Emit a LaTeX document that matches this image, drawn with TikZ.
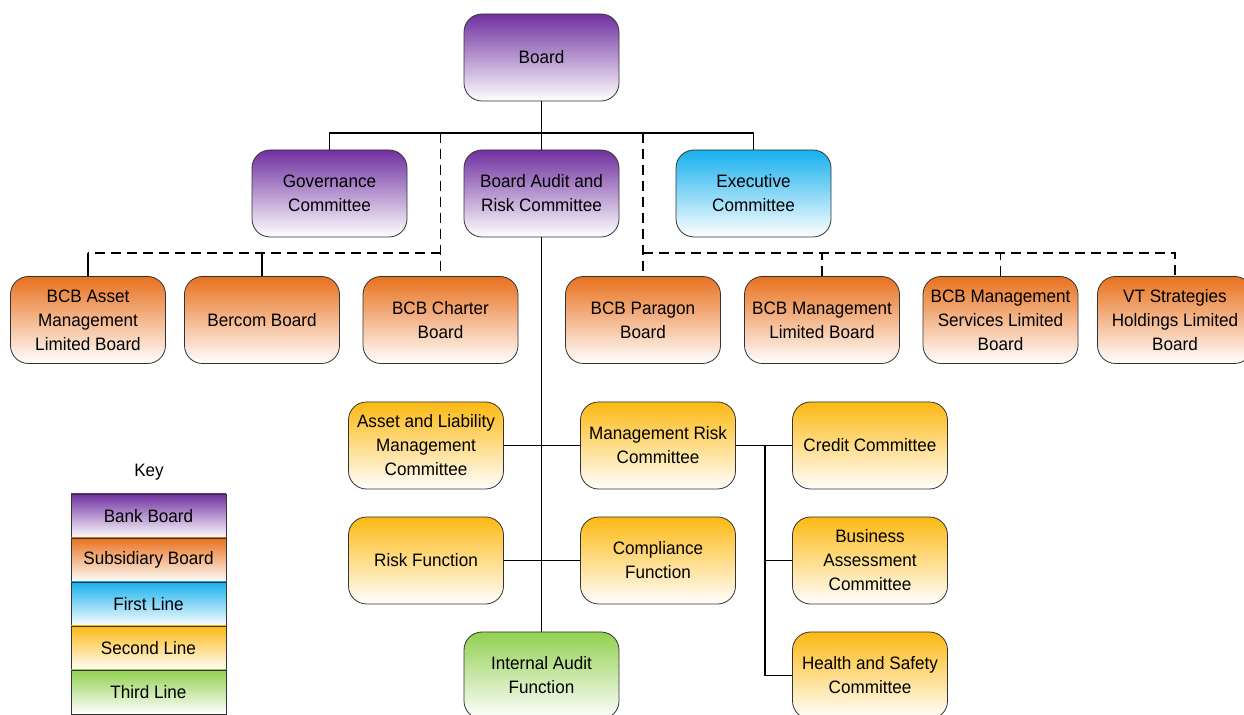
\documentclass[tikz,border=0pt]{standalone}
\usepackage{fontspec}
\setmainfont{Liberation Sans}[FakeStretch=0.95]

\definecolor{bankc}{HTML}{7030A0}
\definecolor{subc}{HTML}{E8711E}
\definecolor{firstc}{HTML}{16B0EE}
\definecolor{secondc}{HTML}{FDB913}
\definecolor{thirdc}{HTML}{92D050}

\begin{document}
\begin{tikzpicture}[x=0.5pt,y=-0.5pt,
  box/.style={draw=black!80,rounded corners=9pt,minimum width=77.5pt,minimum height=43.5pt,
    inner sep=1pt,align=center,font=\fontsize{9}{12}\selectfont},
  bank/.style={box,top color=bankc,bottom color=white},
  sub/.style={box,top color=subc,bottom color=white},
  first/.style={box,top color=firstc,bottom color=white},
  second/.style={box,top color=secondc,bottom color=white},
  third/.style={box,top color=thirdc,bottom color=white},
  keybox/.style={draw=black!80,minimum width=77.5pt,minimum height=22pt,inner sep=0pt,
    font=\fontsize{9}{12}\selectfont,bottom color=white},
  link/.style={line width=0.9pt},
  dlink/.style={line width=0.9pt,dash pattern=on 5pt off 3pt}]
  \useasboundingbox (0,0) rectangle (1244,715);
  \clip (0,0) rectangle (1244,715);

  % boards and committees
  \node (board) at (541.5,57.5) [bank] {Board};
  \node (gov) at (329.5,193.5) [bank] {Governance\\Committee};
  \node (barc) at (541.5,193.5) [bank] {Board Audit and\\Risk Committee};
  \node (exec) at (753.5,193.5) [first] {Executive\\Committee};

  % subsidiary boards
  \node (asset) at (88,320) [sub] {BCB Asset\\Management\\Limited Board};
  \node (bercom) at (262,320) [sub] {Bercom Board};
  \node (charter) at (440.5,320) [sub] {BCB Charter\\Board};
  \node (paragon) at (643,320) [sub] {BCB Paragon\\Board};
  \node (mgmt) at (822,320) [sub] {BCB Management\\Limited Board};
  \node (mgmtserv) at (1000.5,320) [sub] {BCB Management\\Services Limited\\Board};
  \node (vt) at (1175,320) [sub] {VT Strategies\\Holdings Limited\\Board};

  % second and third line
  \node (almc) at (426,445.5) [second] {Asset and Liability\\Management\\Committee};
  \node (mrc) at (658,445.5) [second] {Management Risk\\Committee};
  \node (credit) at (870,445.5) [second] {Credit Committee};
  \node (risk) at (426,560.5) [second] {Risk Function};
  \node (comp) at (658,560.5) [second] {Compliance\\Function};
  \node (bac) at (870,560.5) [second] {Business\\Assessment\\Committee};
  \node (health) at (870,675.5) [second] {Health and Safety\\Committee};
  \node (ia) at (541.5,675.5) [third] {Internal Audit\\Function};

  \coordinate (top) at (541.5,133);
  \coordinate (dl) at (440.5,133);
  \coordinate (dr) at (643,133);
  \coordinate (dlbus) at (440.5,253);
  \coordinate (drbus) at (643,253);
  \coordinate (rbus) at (765,445.5);

  \draw[link] (board) -- (top);
  \draw[link] (gov.north) |- (top) -| (exec.north);
  \draw[link] (top) -- (barc.north);
  \draw[link] (barc.south) -- (ia.north);
  \draw[link] (almc.east) -- (mrc.west);
  \draw[link] (risk.east) -- (comp.west);
  \draw[link] (mrc.east) -- (credit.west);
  \draw[link] (rbus) |- (health.west);
  \draw[link] (bac.west) -- (bac.west -| rbus);

  \draw[dlink] (dl) -- (charter.north);
  \draw[dlink] (dlbus) -- (dlbus -| asset.north);
  \draw[link] (asset.north) -- (asset.north |- dlbus);
  \draw[link] (bercom.north) -- (bercom.north |- dlbus);
  \draw[dlink] (dr) -- (paragon.north);
  \draw[dlink] (drbus) -| (vt.north);
  \draw[dlink] (mgmt.north) -- (mgmt.north |- drbus);
  \draw[dlink] (mgmtserv.north) -- (mgmtserv.north |- drbus);

  % key
  \node (key) at (149,472) [font=\fontsize{9}{12}\selectfont] {Key};
  \node (kbank) at (148.5,516) [keybox,top color=bankc] {Bank Board};
  \node (ksub) at (148.5,560) [keybox,top color=subc] {Subsidiary Board};
  \node (kfirst) at (148.5,604) [keybox,top color=firstc] {First Line};
  \node (ksecond) at (148.5,648) [keybox,top color=secondc] {Second Line};
  \node (kthird) at (148.5,692) [keybox,top color=thirdc] {Third Line};
\end{tikzpicture}
\end{document}
